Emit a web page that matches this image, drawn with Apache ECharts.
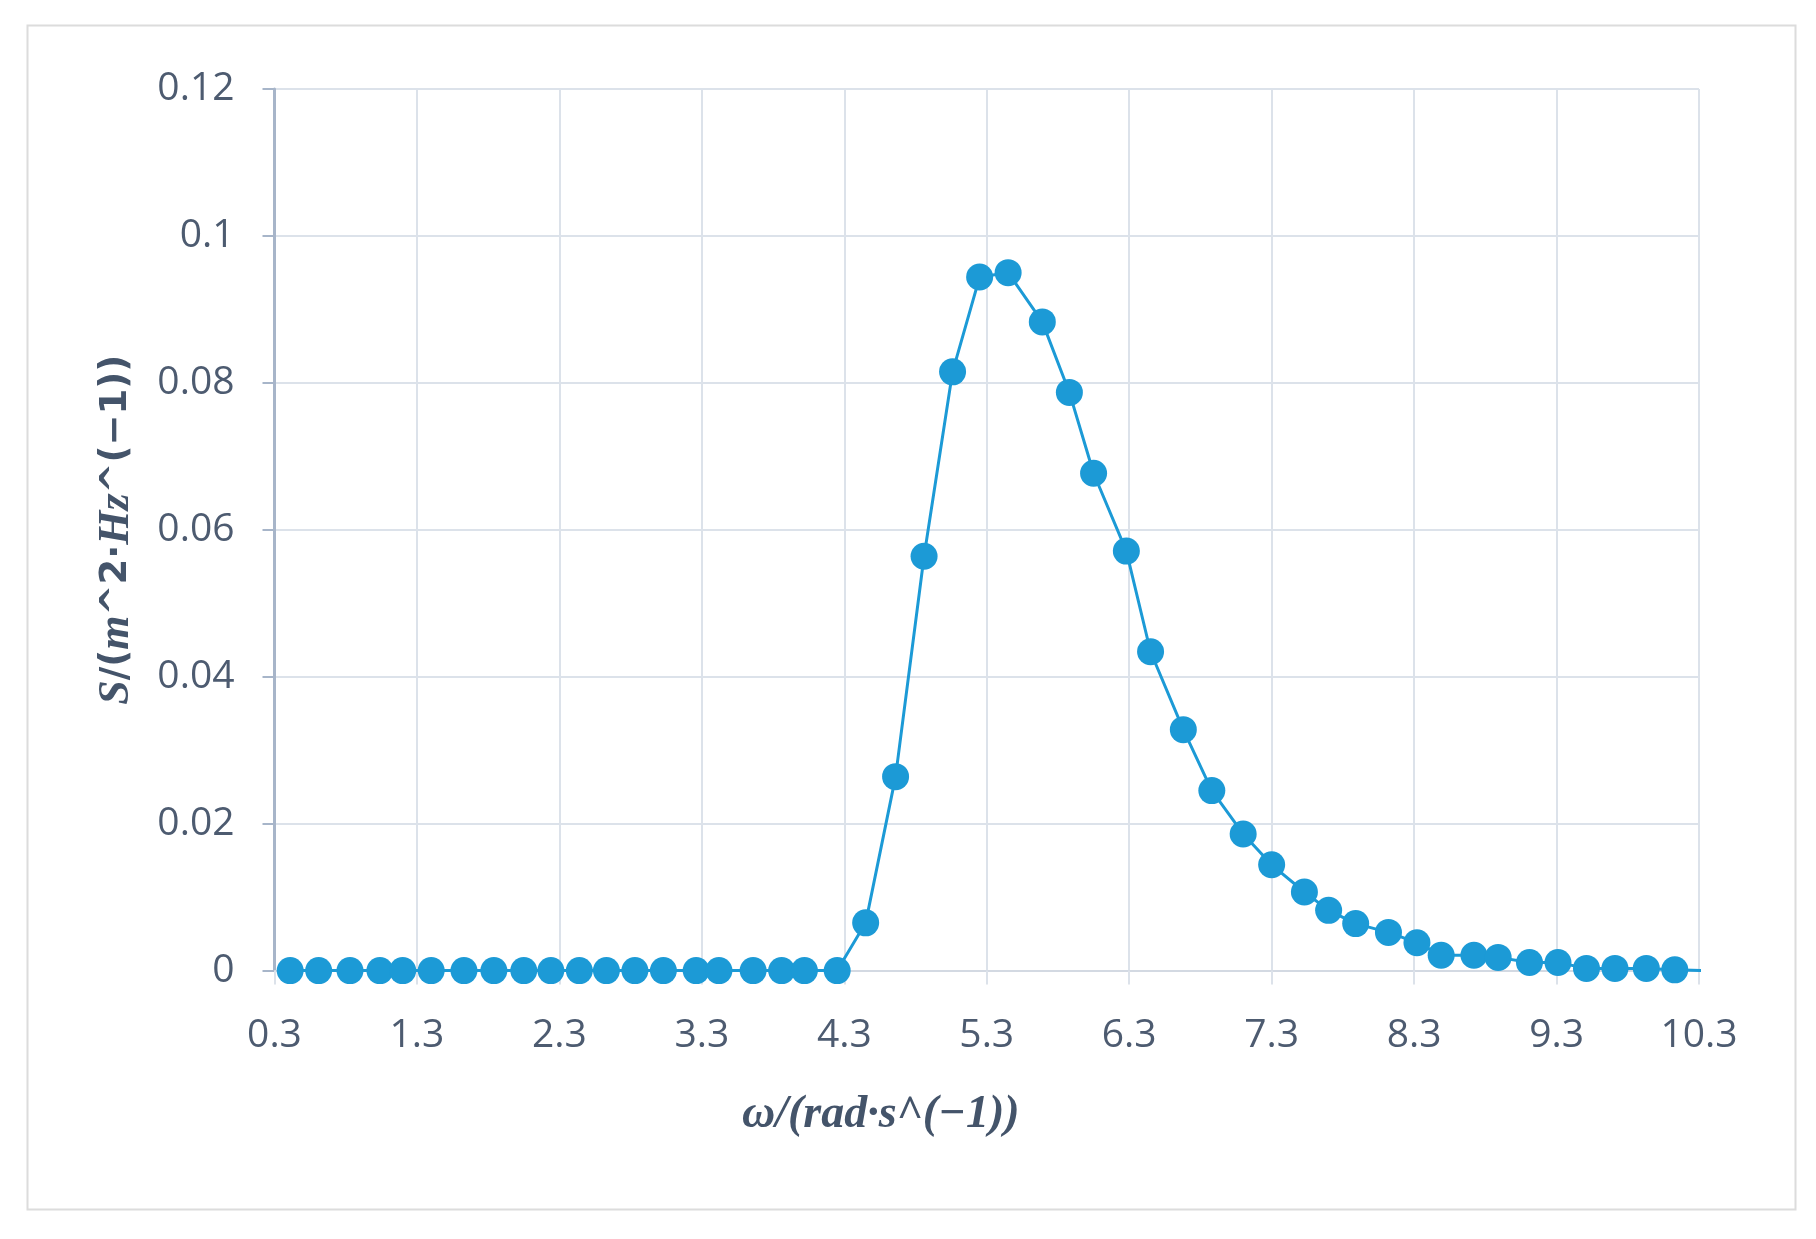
<!DOCTYPE html>
<html>
<head>
<meta charset="utf-8">
<script src="https://cdn.jsdelivr.net/npm/echarts@6/dist/echarts.min.js"></script>
<style>html,body{margin:0;padding:0;background:#fff}#c{width:1816px;height:1239px}</style>
</head>
<body>
<div id="c"></div>
<script>
// angular frequency (rad/s)
const omega = [0.41,0.61,0.83,1.04,1.20,1.40,1.63,1.84,2.05,2.24,2.44,2.63,2.83,3.03,3.26,3.42,3.66,3.86,4.02,4.25,
  4.45,4.66,4.86,5.06,5.25,5.45,5.69,5.88,6.05,6.28,6.45,6.68,6.88,7.10,7.30,7.53,7.70,7.89,8.12,8.32,8.49,8.72,8.89,9.11,9.31,9.51,9.71,9.93,10.13,10.33];
// spectral density S
const spectrum = [0,0,0,0,0,0,0,0,0,0,0,0,0,0,0,0,0,0,0,0,
  0.0065,0.0264,0.0564,0.0815,0.0944,0.0950,0.0883,0.0787,0.0677,0.0571,0.0434,0.0328,0.0245,0.0186,0.0144,0.0107,0.0082,0.0064,0.0052,0.0038,0.0021,0.0021,0.0018,0.0011,0.0011,0.0003,0.0003,0.0003,0.0001,0];
const xTicks = ['0.3','1.3','2.3','3.3','4.3','5.3','6.3','7.3','8.3','9.3','10.3'];
const yTicks = ['0','0.02','0.04','0.06','0.08','0.1','0.12'];

const points = omega.map((w, i) => [w, spectrum[i]]);
const labelColor = '#4d5b70';
const titleColor = '#44546a';
const gridColor = '#dce2ea';

const chart = echarts.init(document.getElementById('c'), null, {renderer: 'canvas'});
chart.setOption({
  backgroundColor: '#ffffff',
  animation: false,
  graphic: [{
    type: 'rect', left: 25, top: 23,
    shape: {width: 1768, height: 1184},
    style: {fill: 'none', stroke: '#dcdcdc', lineWidth: 2}, z: -10
  }],
  grid: {left: 274.5, right: 117, top: 89, bottom: 268.4, containLabel: false},
  xAxis: {
    type: 'value', min: 0.3, max: 10.3, interval: 1,
    name: 'ω/(rad·s^(−1))',
    nameLocation: 'middle', nameGap: 122,
    nameTextStyle: {fontFamily: 'Liberation Serif', fontStyle: 'italic', fontWeight: 'bold', fontSize: 46, color: titleColor, padding: [0, 212, 0, 0]},
    axisLine: {show: true, onZero: false, lineStyle: {color: '#d3d9e2', width: 2}},
    axisTick: {show: true, length: 14, lineStyle: {color: gridColor, width: 2}},
    axisLabel: {
      margin: 46, fontFamily: 'Open Sans', fontSize: 39, color: labelColor,
      formatter: v => xTicks[Math.round(v - 0.3)] ?? (Math.round(v * 10) / 10).toFixed(1)
    },
    splitLine: {show: true, lineStyle: {color: gridColor, width: 2}}
  },
  yAxis: {
    type: 'value', min: 0, max: 0.12, interval: 0.02,
    name: '{i|S}{b|/(}{i|m}{b|^2·}{i|Hz}{b|^(−1))}',
    nameLocation: 'middle', nameGap: 136, nameRotate: 90,
    nameTextStyle: {
      color: titleColor, fontSize: 40,
      rich: {
        i: {fontFamily: 'Liberation Serif', fontStyle: 'italic', fontWeight: 'bold', fontSize: 44, color: titleColor},
        b: {fontFamily: 'DejaVu Sans', fontWeight: 'bold', fontSize: 37, color: titleColor}
      }
    },
    axisLine: {show: true, lineStyle: {color: '#a7b5c9', width: 3}},
    axisTick: {show: true, length: 12, lineStyle: {color: '#a7b5c9', width: 2}},
    axisLabel: {
      margin: 40, fontFamily: 'Open Sans', fontSize: 39, color: labelColor,
      formatter: v => yTicks[Math.round(v / 0.02)] ?? String(v)
    },
    splitLine: {show: true, lineStyle: {color: gridColor, width: 2}}
  },
  series: [{
    type: 'line',
    data: points,
    symbol: 'circle',
    symbolSize: 27,
    clip: true,
    lineStyle: {color: '#1c9ad6', width: 3},
    itemStyle: {color: '#1c9ad6'},
    z: 5
  }]
});
</script>
</body>
</html>
